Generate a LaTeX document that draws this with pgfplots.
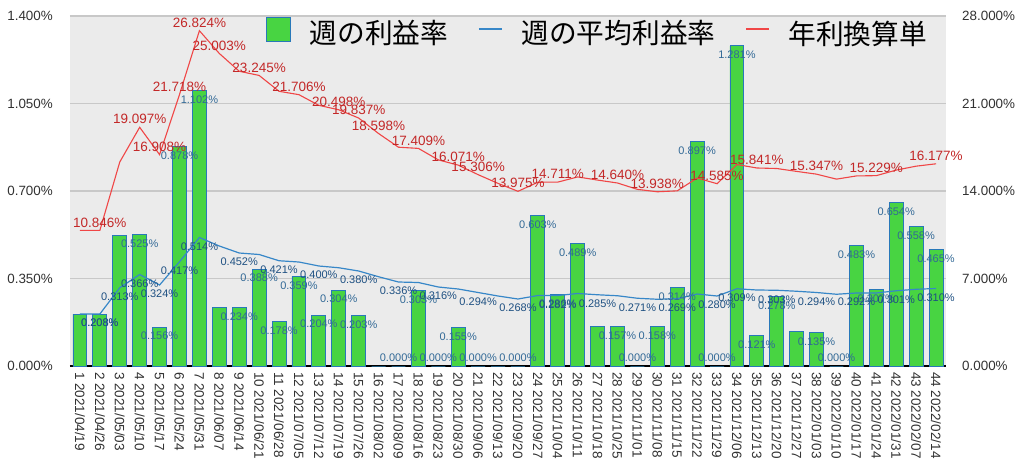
\documentclass[border=0pt]{standalone}
\usepackage{fontspec}
\setmainfont{Liberation Sans}
\newfontfamily\cjk{Noto Sans CJK JP}
\usepackage{pgfplots}
\usepackage{pgfplotstable}
\pgfplotsset{compat=1.18}

\definecolor{barfill}{RGB}{72,212,66}
\definecolor{baredge}{RGB}{40,120,185}
\definecolor{avgline}{RGB}{55,135,200}
\definecolor{yrline}{RGB}{240,70,70}
\definecolor{yrtext}{RGB}{195,40,40}
\definecolor{bartext}{RGB}{50,105,150}
\definecolor{avgtext}{RGB}{30,80,130}
\definecolor{plotbg}{RGB}{235,235,235}
\definecolor{gridc}{RGB}{200,200,200}
\definecolor{ticktext}{RGB}{50,50,50}

% week, weekly rate, running mean, annualised (mean*365/7)
\pgfplotstableread{
x bar avg yr
1 0.208 0.208 10.846
2 0.208 0.208 10.846
3 0.523 0.313 16.321
4 0.525 0.366 19.097
5 0.156 0.324 16.908
6 0.878 0.417 21.718
7 1.102 0.514 26.824
8 0.236 0.480 25.003
9 0.234 0.452 23.580
10 0.388 0.446 23.245
11 0.178 0.421 21.976
12 0.359 0.416 21.706
13 0.204 0.400 20.853
14 0.304 0.393 20.498
15 0.203 0.380 19.837
16 0 0.357 18.598
17 0 0.336 17.502
18 0.303 0.334 17.409
19 0 0.316 16.491
20 0.155 0.308 16.071
21 0 0.294 15.306
22 0 0.280 14.610
23 0 0.268 13.975
24 0.603 0.282 14.702
25 0.286 0.282 14.711
26 0.489 0.290 15.126
27 0.160 0.285 14.874
28 0.157 0.281 14.640
29 0 0.271 14.131
30 0.158 0.267 13.938
31 0.314 0.269 14.013
32 0.897 0.288 15.037
33 0 0.280 14.585
34 1.281 0.309 16.117
35 0.121 0.304 15.841
36 0.278 0.303 15.799
37 0.139 0.299 15.568
38 0.135 0.294 15.347
39 0 0.287 14.950
40 0.483 0.292 15.206
41 0.307 0.292 15.229
42 0.654 0.301 15.675
43 0.558 0.307 15.987
44 0.465 0.310 16.177
}\weekly

\pgfplotsset{
  /pgf/number format/assume math mode=true,
  base/.style={
    scale only axis, width=876pt, height=350pt,
    xmin=0.5, xmax=44.5, ymin=0,
    major tick length=0pt, clip=false,
    y axis line style={draw=none},
    scaled y ticks=false,
  },
  pct/.style={nodes near coords={\pgfmathprintnumber[fixed,fixed zerofill,precision=3]{\pgfplotspointmeta}\%},
    point meta=y, draw=none, mark=none, forget plot},
  sqlegend/.style={legend image code/.code={\draw[##1] (0pt,-8pt) rectangle (24pt,16pt);}},
}

\begin{document}
\begin{tikzpicture}
\fill[white] (-70pt,-109pt) rectangle (954pt,366pt);
\path[use as bounding box] (-70pt,-109pt) rectangle (954pt,366pt);

\begin{axis}[base,
  ymax=1.4, ytick={0,0.35,...,1.4},
  axis x line*=bottom, axis y line*=left,
  x axis line style={black, line width=2pt, -},
  axis background/.style={fill=plotbg},
  ymajorgrids, major grid style={gridc, line width=1.4pt},
  yticklabel={\pgfmathprintnumber[fixed,fixed zerofill,precision=3]{\tick}\%},
  yticklabel style={font=\fontsize{13.4}{15}\selectfont, text=ticktext, inner sep=0pt, anchor=east, xshift=-17pt},
  xtick={1,...,44},
  xticklabels={1 2021/04/19, 2 2021/04/26, 3 2021/05/03, 4 2021/05/10, 5 2021/05/17,
    6 2021/05/24, 7 2021/05/31, 8 2021/06/07, 9 2021/06/14, 10 2021/06/21,
    11 2021/06/28, 12 2021/07/05, 13 2021/07/12, 14 2021/07/19, 15 2021/07/26,
    16 2021/08/02, 17 2021/08/09, 18 2021/08/16, 19 2021/08/23, 20 2021/08/30,
    21 2021/09/06, 22 2021/09/13, 23 2021/09/20, 24 2021/09/27, 25 2021/10/04,
    26 2021/10/11, 27 2021/10/18, 28 2021/10/25, 29 2021/11/01, 30 2021/11/08,
    31 2021/11/15, 32 2021/11/22, 33 2021/11/29, 34 2021/12/06, 35 2021/12/13,
    36 2021/12/20, 37 2021/12/27, 38 2022/01/03, 39 2022/01/10, 40 2022/01/17,
    41 2022/01/24, 42 2022/01/31, 43 2022/02/07, 44 2022/02/14},
  xticklabel style={font=\fontsize{13.5}{15}\selectfont, text=ticktext, inner sep=0pt,
    yshift=-6pt, rotate=-90, anchor=west},
]
\addplot[ybar, bar width=0.7, fill=barfill, draw=baredge, line width=0.9pt]
  table[x=x, y=bar]{\weekly};
\addplot[avgline, line width=1.2pt, mark=none] table[x=x, y=avg]{\weekly};

% bar labels
\addplot[pct, every node near coord/.style={font=\fontsize{11}{12}\selectfont, text=bartext,
    inner sep=0pt, anchor=north, yshift=-5pt}] coordinates {
  (2,0.208) (4,0.525) (5,0.156) (6,0.878) (7,1.102) (9,0.234) (10,0.388) (11,0.178)
  (12,0.359) (13,0.204) (14,0.304) (15,0.203) (18,0.303) (20,0.155) (24,0.603)
  (25,0.286) (26,0.489) (28,0.157) (30,0.158) (31,0.314) (32,0.897) (34,1.281)
  (35,0.121) (36,0.278) (38,0.135) (40,0.483) (41,0.307) (42,0.654) (43,0.558) (44,0.465)};
\addplot[pct, every node near coord/.style={font=\fontsize{11}{12}\selectfont, text=bartext,
    inner sep=0pt, anchor=south, yshift=4pt}] coordinates {
  (17,0) (19,0) (21,0) (23,0) (29,0) (33,0) (39,0)};
% running mean labels
\addplot[pct, every node near coord/.style={font=\fontsize{11}{12}\selectfont, text=avgtext,
    inner sep=0pt, anchor=north, yshift=-5pt}] coordinates {
  (2,0.208) (3,0.313) (4,0.366) (5,0.324) (6,0.417) (7,0.514) (9,0.452) (11,0.421)
  (13,0.400) (15,0.380) (17,0.336) (19,0.316) (21,0.294) (23,0.268) (25,0.282)
  (27,0.285) (29,0.271) (31,0.269) (33,0.280) (34,0.309) (36,0.303) (38,0.294)
  (40,0.292) (42,0.301) (44,0.310)};
\end{axis}

\begin{axis}[base,
  ymax=28, ytick={0,7,...,28},
  hide x axis, axis y line*=right,
  yticklabel={\pgfmathprintnumber[fixed,fixed zerofill,precision=3]{\tick}\%},
  yticklabel style={font=\fontsize{13.4}{15}\selectfont, text=ticktext, inner sep=0pt, anchor=west, xshift=16pt},
  legend image code/.code={\draw[#1] (0pt,4pt) -- (23pt,4pt);},
  legend columns=-1,
  legend style={at={(axis description cs:0.2237,0.957)}, anchor=west, draw=none, fill=none,
    inner sep=0pt, outer sep=0pt, nodes={inner sep=0pt},
    font=\cjk\fontsize{27.7}{30}\selectfont,
    /tikz/every odd column/.append style={column sep=19pt},
    /tikz/every even column/.append style={column sep=30pt}},
]
\addlegendimage{sqlegend, fill=barfill, draw=baredge, line width=0.9pt}
\addlegendentry{週の利益率}
\addlegendimage{draw=avgline, line width=1.2pt}
\addlegendentry{週の平均利益率}
\addplot[draw=yrline, line width=1.1pt, mark=none] table[x=x, y=yr]{\weekly};
\addlegendentry{年利換算単}
% annualised labels
\addplot[pct, every node near coord/.style={font=\fontsize{13.5}{15}\selectfont, text=yrtext,
    inner sep=0pt, anchor=south, yshift=3pt}] coordinates {
  (2,10.846) (4,19.097) (5,16.908) (6,21.718) (7,26.824) (8,25.003) (10,23.245)
  (12,21.706) (14,20.498) (15,19.837) (16,18.598) (18,17.409) (20,16.071) (21,15.306)
  (23,13.975) (25,14.711) (28,14.640) (30,13.938) (33,14.585) (35,15.841) (38,15.347)
  (41,15.229) (44,16.177)};
\end{axis}
\end{tikzpicture}
\end{document}
